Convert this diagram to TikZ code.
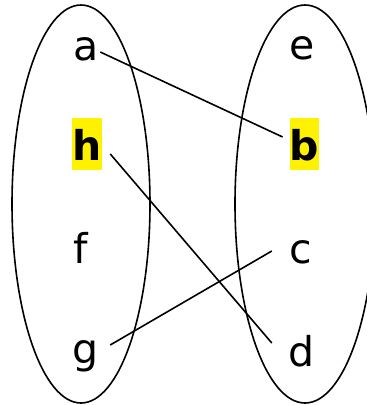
\documentclass[tikz,border=0pt]{standalone}
\usepackage{fontspec}
\setmainfont{DejaVu Sans}
\usepackage{tikz}
\usetikzlibrary{positioning}
\begin{document}
\begin{tikzpicture}[x=1pt,y=-1pt,ltr/.style={font=\fontsize{41}{49}\selectfont, inner sep=0pt, anchor=base, text height=30pt, text depth=10pt},hl/.style={ltr, font=\fontsize{41}{49}\selectfont\bfseries, fill=yellow, text height=42pt},setline/.style={line width=1.6pt},con/.style={line width=1.6pt}]
\useasboundingbox (0,0) rectangle (367,405);
\draw[setline] (81,204) ellipse [x radius=69, y radius=199];
\draw[setline] (305,204) ellipse [x radius=70, y radius=199];
\node[ltr] (a) at (86,60) {a};
\node[hl] (h) at (87,160) {h};
\node[ltr] (f) at (81,263) {f};
\node[ltr] (g) at (86,363) {g};
\node[ltr] (e) at (302,59) {e};
\node[hl] (b) at (304.5,160) {b};
\node[ltr] (c) at (301,263) {c};
\node[ltr] (d) at (302,366) {d};
\draw[con] ([shift={(1.5,2)}]a.east) -- ([shift={(-7,-7)}]b.west);
\draw[con] ([shift={(8.5,10)}]h.east) -- ([shift={(-17,-13)}]d.west);
\draw[con] ([shift={(11,-8)}]g.east) -- ([shift={(-17.7,-2)}]c.west);
\end{tikzpicture}
\end{document}
